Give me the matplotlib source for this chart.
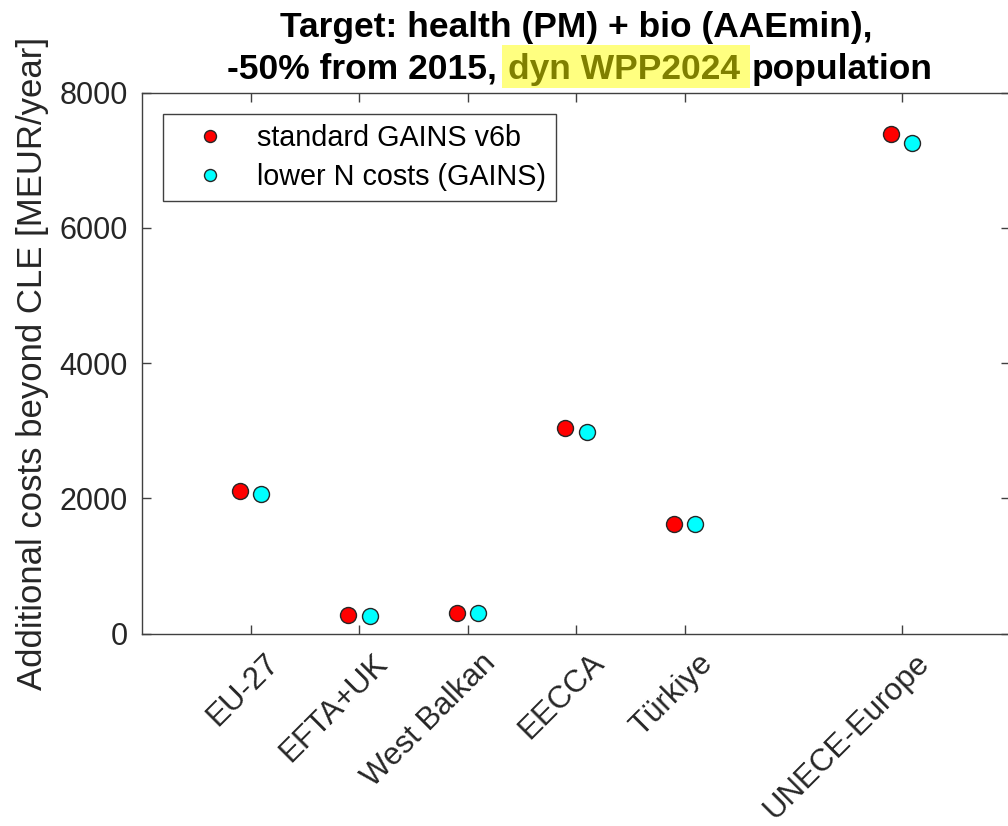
"""
Additional control costs per region - scatter of two cost variants
"""

import matplotlib
matplotlib.use('Agg')
import matplotlib.pyplot as plt
import matplotlib.transforms as mtransforms
from matplotlib.patches import Rectangle
import numpy as np

# data (MEUR/year)
regions = ['EU-27', 'EFTA+UK', 'West Balkan', 'EECCA', 'Türkiye', 'UNECE-Europe']
region_pos = [1, 2, 3, 4, 5, 7]
cost_standard = [2110, 270, 300, 3040, 1615, 7380]
cost_lowN = [2060, 262, 300, 2985, 1615, 7260]

plt.rcParams['font.family'] = ['Liberation Sans', 'DejaVu Sans']

fig = plt.figure(figsize=(10.08, 8.26), dpi=100)
ax = fig.add_axes([142 / 1008, (826 - 633.5) / 826, 868 / 1008, 541 / 826])

x = np.array(region_pos, dtype=float)
ax.plot(x - 0.1, cost_standard, 'o', ls='none', ms=11.5, mfc='#FF0000',
        mec='#262626', mew=1.0, label='standard GAINS v6b', clip_on=False, zorder=3)
ax.plot(x + 0.1, cost_lowN, 'o', ls='none', ms=11.5, mfc='#00FFFF',
        mec='#262626', mew=1.0, label='lower N costs (GAINS)', clip_on=False, zorder=3)

ax.set_xlim(0, 8)
ax.set_ylim(0, 8000)
ax.set_yticks([0, 2000, 4000, 6000, 8000])
ax.set_xticks(region_pos)
ax.set_xticklabels(regions, rotation=45, ha='right', va='top', rotation_mode='anchor',
                   fontsize=22.5)

# axis styling, MATLAB look
for sp in ax.spines.values():
    sp.set_color('#404040')
    sp.set_linewidth(1.0)
ax.tick_params(axis='both', direction='in', length=6.5, width=1.0, color='#404040',
               top=True, right=True, labelcolor='#262626')
ax.tick_params(axis='x', pad=10.5)
ax.tick_params(axis='y', pad=10, labelsize=22)

offset = mtransforms.ScaledTranslation(13 / 100, 0, fig.dpi_scale_trans)
for lab in ax.get_xticklabels():
    lab.set_transform(lab.get_transform() + offset)

ax.set_ylabel('Additional costs beyond CLE [MEUR/year]', fontsize=25, color='#262626', labelpad=8)

leg = ax.legend(loc='upper left', bbox_to_anchor=(0.0242, 0.960), borderaxespad=0,
                fontsize=20.7, markerscale=0.75, borderpad=0.35, handlelength=2.56,
                handletextpad=0.36, labelspacing=0.38, fancybox=False, framealpha=1)
leg.get_frame().set_edgecolor('#404040')
leg.get_frame().set_linewidth(1.0)

# title: two lines, part of the second highlighted
title_kw = dict(fontsize=25.5, fontweight='bold')
cx = (142 + 1010) / 2
fig.text(cx / 1008, 1 - 28 / 826, 'Target: health (PM) + bio (AAEmin),',
         ha='center', va='center', **title_kw)

renderer = fig.canvas.get_renderer()

def text_width(s):
    t = fig.text(0, 0, s, **title_kw)
    w = t.get_window_extent(renderer).width
    t.remove()
    return w

space = (text_width('a a') - text_width('aa')) * 1.15
parts = ['-50% from 2015,', 'dyn WPP2024', 'population']
widths = [text_width(p) for p in parts]
total = sum(widths) + 2 * space
x0 = cx - total / 2 + 4
y2 = 826 - 69
ident = mtransforms.IdentityTransform()
fig.text(x0, y2, parts[0], ha='left', va='center', transform=ident, **title_kw)
x1 = x0 + widths[0] + space
fig.patches.append(Rectangle((x1 - 6, 826 - 88), widths[1] + 15, 43, transform=ident,
                             facecolor='#FFFF80', edgecolor='none', zorder=0))
fig.text(x1, y2, parts[1], ha='left', va='center', transform=ident, color='#7F7F00',
         zorder=1, **title_kw)
x2 = x1 + widths[1] + space
fig.text(x2, y2, parts[2], ha='left', va='center', transform=ident, **title_kw)

plt.savefig('out.png', dpi=100)
print("saved out.png")
